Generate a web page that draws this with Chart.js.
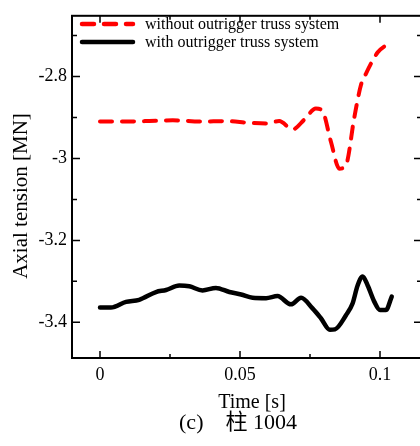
<!DOCTYPE html>
<html>
<head>
<meta charset="utf-8">
<script src="https://cdn.jsdelivr.net/npm/chart.js@4.4.1/dist/chart.umd.min.js"></script>
<style>
html,body{margin:0;padding:0;background:#fff;overflow:hidden;}
#wrap{width:430px;height:446px;}
</style>
</head>
<body>
<div id="wrap"><canvas id="c" width="430" height="446"></canvas></div>
<script>
// ---- data ----
const seriesNames = ["without outrigger truss system", "with outrigger truss system"];
const timeWithout = [0, 0.008, 0.016, 0.026, 0.036, 0.045, 0.053, 0.0593, 0.064, 0.0688, 0.073, 0.0771, 0.0795, 0.0825, 0.0855, 0.0879, 0.0908, 0.0932, 0.095, 0.0992, 0.1027];
const valWithout  = [-2.910, -2.910, -2.909, -2.907, -2.910, -2.909, -2.913, -2.915, -2.909, -2.929, -2.905, -2.878, -2.885, -2.960, -3.025, -3.015, -2.901, -2.821, -2.793, -2.741, -2.721];
const timeWith = [0, 0.0039, 0.0093, 0.014, 0.02, 0.0236, 0.0283, 0.0319, 0.0366, 0.0414, 0.0462, 0.0504, 0.0545, 0.0593, 0.0634, 0.0682, 0.0718, 0.0759, 0.0789, 0.0821, 0.0839, 0.0879, 0.0902, 0.092, 0.0938, 0.0956, 0.098, 0.1, 0.1021, 0.1042];
const valWith  = [-3.364, -3.364, -3.350, -3.345, -3.326, -3.321, -3.310, -3.312, -3.322, -3.316, -3.326, -3.332, -3.340, -3.341, -3.336, -3.356, -3.340, -3.366, -3.390, -3.418, -3.417, -3.382, -3.354, -3.310, -3.288, -3.310, -3.350, -3.370, -3.370, -3.337];
const xTicks = [0, 0.025, 0.05, 0.075, 0.1];
const xLabels = ["0", "", "0.05", "", "0.1"];
const yTicks = [-2.7, -2.8, -2.9, -3.0, -3.1, -3.2, -3.3, -3.4];
const yLabels = ["", "-2.8", "", "-3", "", "-3.2", "", "-3.4"];
const xTitle = "Time [s]";
const yTitle = "Axial tension [MN]";
const caption = "(c)\u3000柱 1004";

const SERIF = "'Liberation Serif','Times New Roman',serif";

const framePlugin = {
  id: 'frame',
  afterDraw(chart) {
    const ctx = chart.ctx, a = chart.chartArea;
    const xs = chart.scales.x, ys = chart.scales.y;
    ctx.save();
    ctx.strokeStyle = '#000';
    ctx.lineWidth = 2;
    ctx.strokeRect(a.left, a.top, a.right - a.left, a.bottom - a.top);
    ctx.lineWidth = 1.5;
    ctx.beginPath();
    xTicks.forEach((v, i) => {
      const px = xs.getPixelForValue(v);
      const len = xLabels[i] ? 7 : 4;
      ctx.moveTo(px, a.bottom); ctx.lineTo(px, a.bottom - len);
      ctx.moveTo(px, a.top); ctx.lineTo(px, a.top + len);
    });
    yTicks.forEach((v, i) => {
      const py = ys.getPixelForValue(v);
      const len = yLabels[i] ? 8 : 5;
      ctx.moveTo(a.left, py); ctx.lineTo(a.left + len, py);
      ctx.moveTo(a.right, py); ctx.lineTo(a.right - len, py);
    });
    ctx.stroke();

    // legend
    const items = [
      {c: '#ff0000', dash: [12, 10], y: 24, label: seriesNames[0]},
      {c: '#000000', dash: [], y: 42, label: seriesNames[1]}
    ];
    items.forEach(it => {
      ctx.beginPath();
      ctx.strokeStyle = it.c;
      ctx.lineWidth = 4.5;
      ctx.lineCap = 'round';
      ctx.setLineDash(it.dash);
      ctx.moveTo(82, it.y); ctx.lineTo(133, it.y);
      ctx.stroke();
      ctx.setLineDash([]);
      ctx.fillStyle = '#000';
      ctx.font = '16px ' + SERIF;
      ctx.textAlign = 'left';
      ctx.textBaseline = 'middle';
      ctx.fillText(it.label, 145, it.y + 1);
    });

    // titles
    ctx.fillStyle = '#000';
    ctx.textAlign = 'center';
    ctx.textBaseline = 'alphabetic';
    ctx.font = '20px ' + SERIF;
    ctx.fillText(xTitle, 252, 408);
    ctx.font = "22px 'Liberation Serif','Noto Sans CJK SC',serif";
    ctx.fillText(caption, 238, 429);
    ctx.save();
    ctx.translate(27, 196);
    ctx.rotate(-Math.PI / 2);
    ctx.font = '21px ' + SERIF;
    ctx.fillText(yTitle, 0, 0);
    ctx.restore();
    ctx.restore();
  }
};

new Chart(document.getElementById('c'), {
  type: 'line',
  data: {
    datasets: [
      {
        label: seriesNames[0],
        data: timeWithout.map((t, i) => ({x: t, y: valWithout[i]})),
        borderColor: '#ff0000',
        borderWidth: 4,
        borderDash: [12, 10],
        borderCapStyle: 'round',
        pointRadius: 0,
        cubicInterpolationMode: 'monotone',
        fill: false
      },
      {
        label: seriesNames[1],
        data: timeWith.map((t, i) => ({x: t, y: valWith[i]})),
        borderColor: '#000000',
        borderWidth: 4.5,
        borderCapStyle: 'round',
        borderJoinStyle: 'round',
        pointRadius: 0,
        cubicInterpolationMode: 'monotone',
        fill: false
      }
    ]
  },
  options: {
    responsive: false,
    animation: false,
    devicePixelRatio: 1,
    layout: {padding: {left: 0, top: 10, right: 8, bottom: 0}},
    plugins: {legend: {display: false}, tooltip: {enabled: false}},
    scales: {
      x: {
        type: 'linear',
        min: -0.01, max: 0.115,
        grid: {display: false, drawTicks: false},
        border: {display: false},
        afterBuildTicks: s => { s.ticks = xTicks.map(v => ({value: v})); },
        afterFit: s => { s.height = 88; },
        ticks: {
          color: '#000', font: {family: SERIF, size: 18}, padding: 6,
          maxRotation: 0, autoSkip: false,
          callback: (v, i) => xLabels[i]
        }
      },
      y: {
        type: 'linear',
        min: -3.487, max: -2.652,
        grid: {display: false, drawTicks: false},
        border: {display: false},
        afterBuildTicks: s => { s.ticks = yTicks.slice().reverse().map(v => ({value: v})); },
        afterFit: s => { s.width = 72; },
        ticks: {
          color: '#000', font: {family: SERIF, size: 18}, padding: 5,
          autoSkip: false,
          callback: (v, i) => { const k = yTicks.indexOf(Math.round(v * 10) / 10); return k >= 0 ? yLabels[k] : ''; }
        }
      }
    }
  },
  plugins: [framePlugin]
});
</script>
</body>
</html>
